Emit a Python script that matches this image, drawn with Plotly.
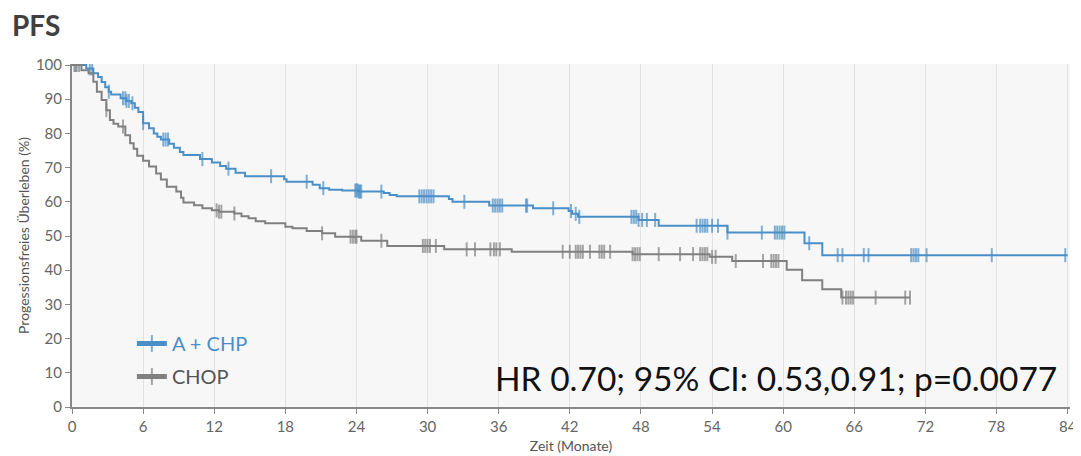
import numpy as np
import plotly.graph_objects as go

# ---------------- data ----------------
# A + CHP: times of drops (months) and survival after the drop (%)
a_event_t = [0, 1.2, 1.8, 2.2, 2.5, 2.8, 3.1, 3.3, 4.1, 4.6, 5.0, 5.3, 5.6, 6.0,
             6.5, 6.9, 7.2, 7.5, 8.2, 8.6, 9.1, 9.4, 10.8, 11.8, 12.5, 13.0, 13.8,
             14.6, 17.9, 18.1, 20.3, 20.9, 21.7, 22.8, 24.2, 26.3, 26.8, 27.4,
             31.8, 32.1, 35.2, 38.9, 41.9, 42.2, 42.7, 47.8, 49.5, 55.3, 61.8, 63.3]
a_event_s = [100, 99.0, 97.6, 96.5, 95.0, 93.5, 92.2, 91.4, 90.3, 89.5, 88.8, 87.5, 86.3, 83.0,
             81.5, 80.0, 79.0, 78.2, 77.0, 75.8, 74.6, 73.7, 72.5, 71.5, 70.5, 69.7, 68.5,
             67.5, 66.6, 65.9, 65.0, 64.0, 63.5, 63.3, 63.0, 62.6, 62.0, 61.6,
             60.8, 60.0, 58.9, 58.1, 57.3, 56.5, 55.6, 54.7, 53.0, 51.0, 47.9, 44.4]
a_cens_t = [0.3, 1.5, 1.7, 3.1, 4.3, 4.5, 4.6, 4.8, 5.1, 6.0, 7.7, 7.9, 8.1, 11.0, 13.2,
            16.8, 19.8, 21.2, 23.9, 24.0, 24.1, 24.2, 24.3, 24.4, 26.1, 29.3, 29.5,
            29.7, 29.9, 30.1, 30.3, 30.5, 33.1, 35.5, 35.7, 35.9, 36.1, 36.3, 38.3,
            38.4, 40.6, 42.1, 42.5, 42.8, 47.2, 47.4, 47.6, 47.8, 48.1, 48.5, 49.2,
            52.7, 53.0, 53.2, 53.4, 53.6, 54.0, 54.5, 55.3, 58.2, 59.3, 59.5, 59.7,
            59.9, 60.1, 62.2, 64.6, 65.0, 66.8, 67.2, 70.8, 71.0, 71.2, 71.4, 72.1,
            77.6, 83.8]
a_end = 84.0

# CHOP
c_event_t = [0, 0.8, 1.4, 1.8, 2.1, 2.5, 2.9, 3.2, 3.5, 3.9, 4.5, 4.9, 5.2, 5.5, 6.0,
             6.5, 7.1, 7.5, 8.0, 8.8, 9.2, 9.4, 10.3, 11.0, 11.8, 12.4, 13.7, 14.3,
             14.9, 15.5, 16.3, 18.0, 18.6, 19.8, 21.1, 22.2, 24.4, 26.6, 31.4, 37.1,
             47.3, 53.8, 55.7, 60.3, 61.6, 63.3, 64.9]
c_event_s = [100, 98.5, 97.6, 95.1, 92.2, 89.8, 86.8, 83.9, 82.8, 82.0, 79.5, 77.1, 75.5, 73.5, 72.0,
             70.3, 68.3, 66.5, 64.4, 63.0, 61.2, 59.8, 59.0, 58.1, 57.5, 57.1, 56.6, 55.8,
             55.2, 54.3, 53.7, 52.7, 52.3, 51.5, 50.8, 49.8, 48.6, 47.1, 46.1, 45.4,
             44.7, 43.9, 42.7, 40.1, 37.1, 34.4, 32.0]
c_cens_t = [0.2, 0.4, 0.6, 2.9, 4.3, 12.2, 12.4, 12.6, 13.7, 21.1, 23.5, 23.7, 23.9, 24.0,
            26.1, 29.6, 29.8, 30.0, 30.2, 30.7, 33.3, 34.0, 35.3, 35.6, 35.8, 36.1,
            41.4, 42.0, 42.5, 42.7, 42.9, 43.1, 43.7, 44.5, 44.7, 44.9, 45.4, 47.3,
            47.5, 47.7, 47.9, 49.5, 51.3, 52.4, 53.0, 53.2, 53.4, 53.6, 54.0, 54.3,
            56.0, 58.3, 59.0, 59.2, 59.4, 59.6, 65.0, 65.3, 65.5, 65.7, 65.9, 67.8,
            70.3, 70.7]
c_end = 70.7

x_ticks = list(range(0, 85, 6))
y_ticks = list(range(0, 101, 10))

BLUE = "#4a8fc7"
GRAY = "#808080"


def km_trace(ev_t, ev_s, cens_t, end_t, color, name):
    ev_t = np.asarray(ev_t, float)
    ev_s = np.asarray(ev_s, float)
    cens = np.asarray(cens_t, float)
    xs = np.concatenate([ev_t, cens, [end_t]])
    kind = np.concatenate([np.zeros(len(ev_t)), np.ones(len(cens)), [0]])
    order = np.argsort(xs, kind="stable")
    xs, kind = xs[order], kind[order]
    idx = np.searchsorted(ev_t, xs, side="right") - 1
    ys = ev_s[idx]
    sizes = np.where(kind == 1, 10, 0)
    return go.Scatter(
        x=xs, y=ys, mode="lines+markers", name=name,
        line=dict(color=color, width=2, shape="hv"),
        marker=dict(symbol="line-ns-open", size=sizes, color=color,
                    line=dict(color=color, width=2)),
        legendgroup=name,
        hoverinfo="skip",
    )


fig = go.Figure()
fig.add_trace(km_trace(a_event_t, a_event_s, a_cens_t, a_end, BLUE,
                       f"<span style='color:{BLUE}'>A + CHP</span>"))
fig.add_trace(km_trace(c_event_t, c_event_s, c_cens_t, c_end, GRAY,
                       "<span style='color:#555555'>CHOP</span>"))

# the page body adds an 8px margin, so the figure is 8px smaller than the window
W, H = 1073, 448
FONT = "Lato"
fig.update_layout(
    width=W, height=H,
    margin=dict(l=64, r=11, t=56, b=49, autoexpand=False),
    paper_bgcolor="white",
    plot_bgcolor="#f7f7f7",
    font=dict(family=FONT, size=12, color="#666666"),
    title=dict(text="<b>PFS</b>", x=0.0, xref="container", xanchor="left",
               y=1 - 18 / H, yref="container", yanchor="middle",
               pad=dict(l=4),
               font=dict(family=FONT, size=28, color="#404040")),
    showlegend=True,
    legend=dict(x=0.06, y=0.242, xanchor="left", yanchor="top",
                bgcolor="rgba(0,0,0,0)", font=dict(family=FONT, size=20),
                itemsizing="constant", tracegroupgap=4),
    xaxis=dict(range=[0, 84.2], tickvals=x_ticks, ticks="outside", ticklen=5,
               tickcolor="#888888", showline=True, linecolor="#888888", linewidth=2,
               showgrid=True, gridcolor="#e2e2e2", gridwidth=1, zeroline=False,
               automargin=False,
               tickfont=dict(size=15, color="#666666"),
               title=dict(text="Zeit (Monate)", font=dict(size=14, color="#555555"),
                          standoff=7)),
    yaxis=dict(range=[0, 100.3], tickvals=y_ticks, ticks="outside", ticklen=5,
               tickcolor="#888888", showline=True, linecolor="#888888", linewidth=2,
               showgrid=False, zeroline=False, automargin=False,
               tickfont=dict(size=15, color="#666666"),
               title=dict(text="Progessionsfreies Überleben (%)",
                          font=dict(size=14, color="#555555"), standoff=3)),
    annotations=[dict(text="HR 0.70; 95% CI: 0.53,0.91; p=0.0077",
                      x=0.4218, y=0.0845, xref="paper", yref="paper",
                      xanchor="left", yanchor="middle", showarrow=False,
                      font=dict(family=FONT, size=33.5, color="#111111"))],
)

fig.write_html("out.html")
